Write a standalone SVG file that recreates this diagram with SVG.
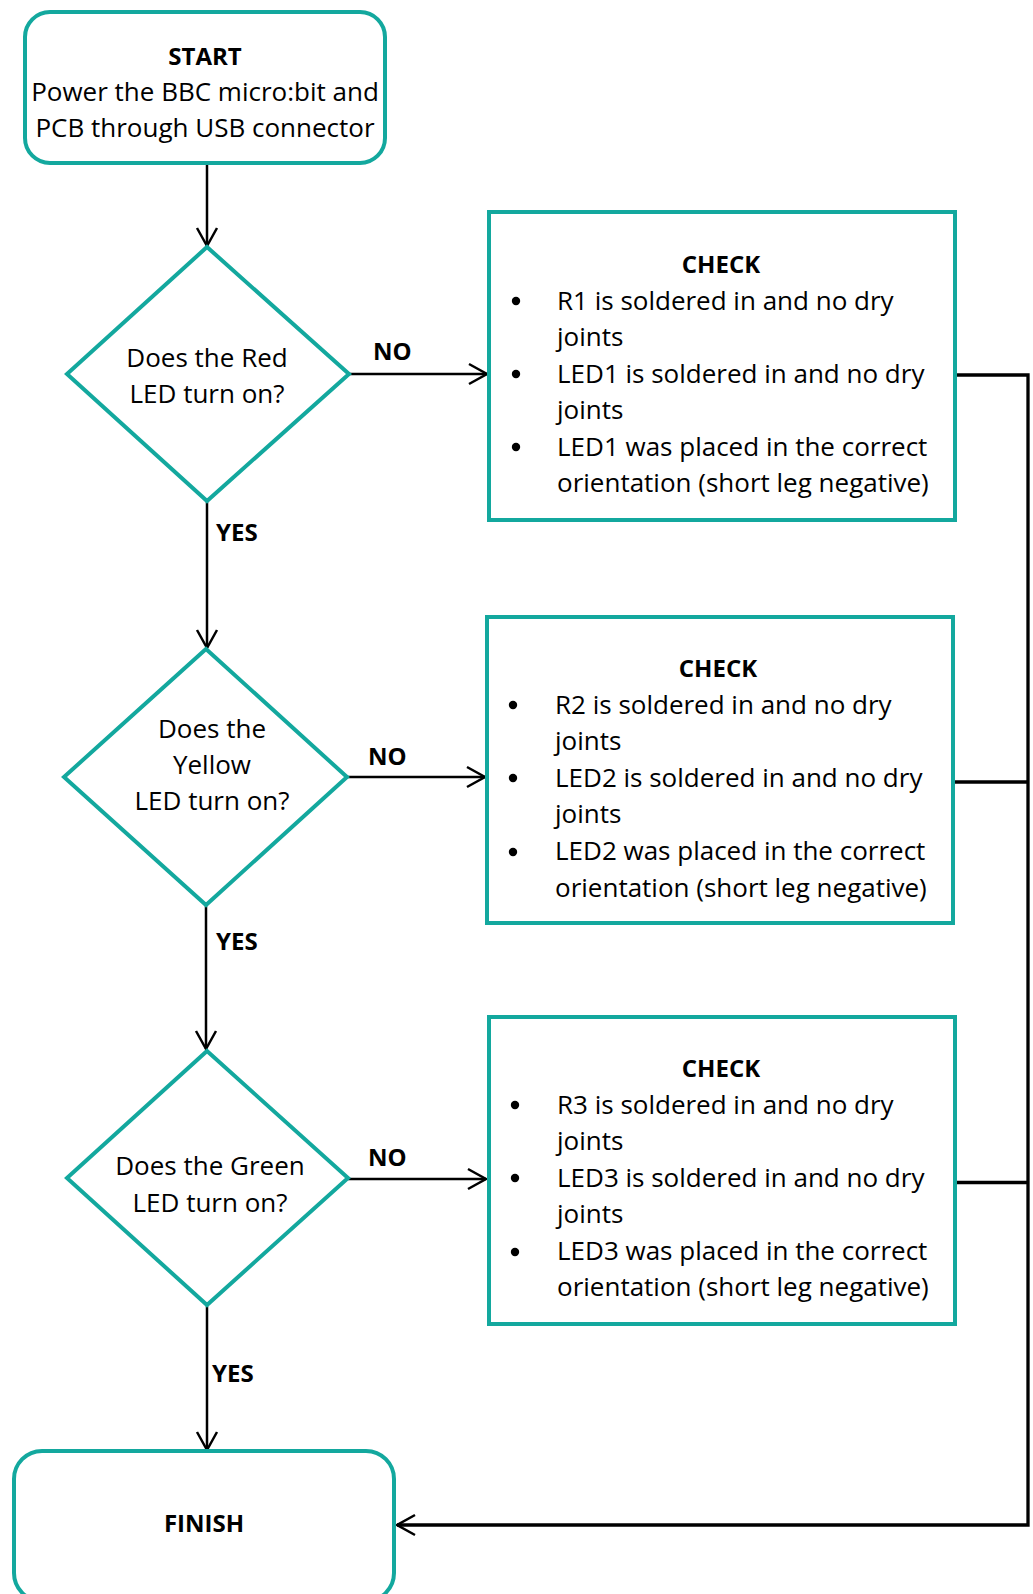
<svg xmlns="http://www.w3.org/2000/svg" width="1033" height="1594" viewBox="0 0 1033 1594">
<style>
.shape{fill:#fff;stroke:#13a89e;stroke-width:4}
.t{font-family:"Open Sans","Noto Sans",sans-serif;font-size:26px;fill:#000}
.b{font-family:"Open Sans","Noto Sans",sans-serif;font-size:24px;font-weight:bold;fill:#000}
.mid{text-anchor:middle}
.arr{fill:none;stroke:#000;stroke-width:2.5}
.ret{fill:none;stroke:#000;stroke-width:3.3}
.dot{fill:#000}
</style>
<defs>
<marker id="ah" markerUnits="userSpaceOnUse" viewBox="-22 -13 25 26" refX="0" refY="0" markerWidth="25" markerHeight="26" orient="auto" overflow="visible">
<path d="M-18,-10 L0,0 L-18,10" fill="none" stroke="#000" stroke-width="2.5"/>
</marker>
</defs>
<rect width="1033" height="1594" fill="#fff"/>

<g id="connectors">
<path class="arr" d="M207,164 V246" marker-end="url(#ah)"/>
<path class="arr" d="M207,501 V648" marker-end="url(#ah)"/>
<path class="arr" d="M206,905 V1049" marker-end="url(#ah)"/>
<path class="arr" d="M207,1305 V1450" marker-end="url(#ah)"/>
<path class="arr" d="M349,374 H487" marker-end="url(#ah)"/>
<path class="arr" d="M347,777 H485" marker-end="url(#ah)"/>
<path class="arr" d="M348,1179 H486" marker-end="url(#ah)"/>
<path class="ret" d="M955,375 H1028 V1525 H397" marker-end="url(#ah)"/>
<path class="ret" d="M953,782 H1028"/>
<path class="ret" d="M955,1182.5 H1028"/>
<text class="b" x="373" y="360">NO</text>
<text class="b" x="368" y="765">NO</text>
<text class="b" x="368" y="1166">NO</text>
<text class="b" x="216" y="541">YES</text>
<text class="b" x="216" y="950">YES</text>
<text class="b" x="212" y="1382">YES</text>
</g>

<g id="start">
<rect class="shape" x="25" y="12" width="360" height="151" rx="25"/>
<text class="b mid" x="205" y="65">START</text>
<text class="t mid" x="205" y="101">Power the BBC micro:bit and</text>
<text class="t mid" x="205" y="137">PCB through USB connector</text>
</g>

<g id="decision-red">
<polygon class="shape" points="207,247 349,374 207,501 67,374"/>
<text class="t mid" x="207" y="367">Does the Red</text>
<text class="t mid" x="207" y="403">LED turn on?</text>
</g>

<g id="decision-yellow">
<polygon class="shape" points="206,649 347,777 206,905 64,777"/>
<text class="t mid" x="212" y="738">Does the</text>
<text class="t mid" x="212" y="774">Yellow</text>
<text class="t mid" x="212" y="810">LED turn on?</text>
</g>

<g id="decision-green">
<polygon class="shape" points="207,1051 348,1178 207,1305 67,1178"/>
<text class="t mid" x="210" y="1175">Does the Green</text>
<text class="t mid" x="210" y="1212">LED turn on?</text>
</g>

<g id="check-1">
<rect class="shape" x="489" y="212" width="466" height="308"/>
<text class="b mid" x="721" y="273">CHECK</text>
<circle class="dot" cx="516" cy="301" r="4.2"/>
<circle class="dot" cx="516" cy="374" r="4.2"/>
<circle class="dot" cx="516" cy="447" r="4.2"/>
<text class="t" x="557" y="310">R1 is soldered in and no dry</text>
<text class="t" x="557" y="346">joints</text>
<text class="t" x="557" y="383">LED1 is soldered in and no dry</text>
<text class="t" x="557" y="419">joints</text>
<text class="t" x="557" y="456">LED1 was placed in the correct</text>
<text class="t" x="557" y="492">orientation (short leg negative)</text>
</g>

<g id="check-2">
<rect class="shape" x="487" y="617" width="466" height="306"/>
<text class="b mid" x="718" y="677">CHECK</text>
<circle class="dot" cx="513" cy="705" r="4.2"/>
<circle class="dot" cx="513" cy="778" r="4.2"/>
<circle class="dot" cx="513" cy="852" r="4.2"/>
<text class="t" x="555" y="714">R2 is soldered in and no dry</text>
<text class="t" x="555" y="750">joints</text>
<text class="t" x="555" y="787">LED2 is soldered in and no dry</text>
<text class="t" x="555" y="823">joints</text>
<text class="t" x="555" y="860">LED2 was placed in the correct</text>
<text class="t" x="555" y="897">orientation (short leg negative)</text>
</g>

<g id="check-3">
<rect class="shape" x="489" y="1017" width="466" height="307"/>
<text class="b mid" x="721" y="1077">CHECK</text>
<circle class="dot" cx="515" cy="1105" r="4.2"/>
<circle class="dot" cx="515" cy="1178" r="4.2"/>
<circle class="dot" cx="515" cy="1252" r="4.2"/>
<text class="t" x="557" y="1114">R3 is soldered in and no dry</text>
<text class="t" x="557" y="1150">joints</text>
<text class="t" x="557" y="1187">LED3 is soldered in and no dry</text>
<text class="t" x="557" y="1223">joints</text>
<text class="t" x="557" y="1260">LED3 was placed in the correct</text>
<text class="t" x="557" y="1296">orientation (short leg negative)</text>
</g>

<g id="finish">
<rect class="shape" x="14" y="1451" width="380" height="150" rx="28"/>
<text class="b mid" x="204" y="1532">FINISH</text>
</g>
</svg>
